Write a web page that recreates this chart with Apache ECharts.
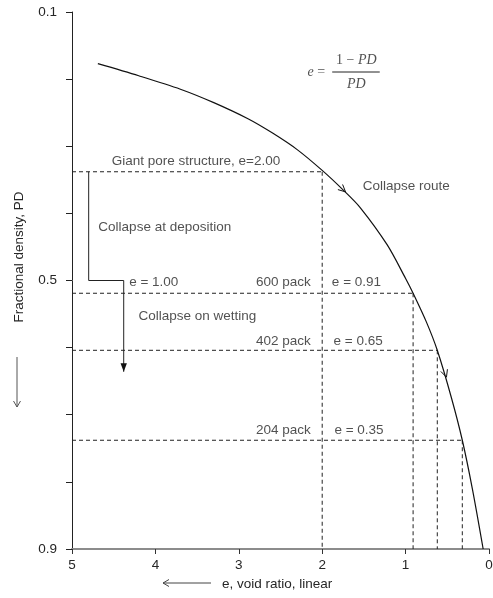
<!DOCTYPE html>
<html><head><meta charset="utf-8">
<script src="https://cdn.jsdelivr.net/npm/echarts@6/dist/echarts.min.js"></script>
<style>html,body{margin:0;padding:0;background:#fff}#c{width:493px;height:598px}</style>
</head><body><div id="c"></div>
<script>
// ---- data ----
const curveE  = [4.69, 4.2, 3.7, 3.3, 2.89, 2.6, 2.3, 2.0, 1.75, 1.54, 1.22, 1.0, 0.91, 0.75, 0.62, 0.45, 0.32, 0.2, 0.07];
const curvePD = [0.177, 0.195, 0.215, 0.235, 0.259, 0.28, 0.305, 0.336, 0.365, 0.392, 0.447, 0.497, 0.519, 0.562, 0.604, 0.675, 0.738, 0.81, 0.9];

const packE  = [2.0, 0.91, 0.62, 0.32];     // where the dashed guides meet the curve
const packPD = [0.338, 0.519, 0.604, 0.738];

const depositE  = [4.80, 4.80, 4.38, 4.38];  // "collapse at deposition / on wetting" path
const depositPD = [0.338, 0.5, 0.5, 0.636];

const labelTexts = ['Giant pore structure, e=2.00', 'Collapse route', 'Collapse at deposition', 'e = 1.00',
                    '600 pack', 'e = 0.91', 'Collapse on wetting', '402 pack', 'e = 0.65', '204 pack', 'e = 0.35'];
const labelE  = [4.53, 1.52, 4.69, 4.32, 2.80, 1.89, 4.21, 2.80, 1.87, 2.80, 1.86];
const labelPD = [0.322, 0.359, 0.420, 0.502, 0.502, 0.502, 0.554, 0.590, 0.590, 0.723, 0.723];

// arrowheads: tip (e, PD), a point behind it (e, PD), filled?
const arrowTipE   = [1.72, 0.51, 4.38];
const arrowTipPD  = [0.368, 0.644, 0.636];
const arrowFromE  = [2.0, 0.62, 4.38];
const arrowFromPD = [0.336, 0.604, 0.5];
const arrowFilled = [0, 0, 1];

const xMin = 0, xMax = 5, xStep = 1;
const yMin = 0.1, yMax = 0.9, yStep = 0.1;
const yLabelValues = [0.1, 0.5, 0.9];

// formula annotation
const formulaE = [2.07, 1.59, 1.59];
const formulaPD = [0.190, 0.1715, 0.207];
const fracBarE = [1.88, 1.31];
const fracBarPD = 0.1894;

// ---- build chart ----
const FONT = '"Liberation Sans", Arial, Helvetica, sans-serif';
const SERIF = '"Liberation Serif", "Times New Roman", serif';
const TXT = '#262626';
const zip = (a, b) => a.map((v, i) => [v, b[i]]);
const dashed = { color: '#222', width: 1, type: [4, 3] };

const series = [];
// main curve
series.push({ type: 'line', data: zip(curveE, curvePD), smooth: 0.3, symbol: 'none',
  lineStyle: { color: '#111', width: 1.2 }, silent: true, z: 5 });
// dashed horizontal and vertical guides
packE.forEach((e, i) => {
  series.push({ type: 'line', data: [[xMax, packPD[i]], [e, packPD[i]]], symbol: 'none', lineStyle: dashed, silent: true });
  series.push({ type: 'line', data: [[e, packPD[i]], [e, yMax]], symbol: 'none', lineStyle: dashed, silent: true });
});
// collapse path
series.push({ type: 'line', data: zip(depositE, depositPD), symbol: 'none',
  lineStyle: { color: '#222', width: 1 }, silent: true });
// fraction bar
series.push({ type: 'line', data: fracBarE.map(e => [e, fracBarPD]), symbol: 'none',
  lineStyle: { color: '#222', width: 1 }, silent: true });
// arrowheads
series.push({
  type: 'custom', silent: true, clip: false, z: 6,
  data: arrowTipE.map((e, i) => [e, arrowTipPD[i], arrowFromE[i], arrowFromPD[i], arrowFilled[i]]),
  encode: { x: 0, y: 1 },
  renderItem: function (params, api) {
    const tip = api.coord([api.value(0), api.value(1)]);
    const from = api.coord([api.value(2), api.value(3)]);
    const filled = api.value(4);
    let dx = tip[0] - from[0], dy = tip[1] - from[1];
    const len = Math.hypot(dx, dy) || 1; dx /= len; dy /= len;
    const L = filled ? 9 : 8, th = filled ? 0.36 : 0.45;
    const c = Math.cos(th), s = Math.sin(th);
    const a = [tip[0] - L * (dx * c - dy * s), tip[1] - L * (dx * s + dy * c)];
    const b = [tip[0] - L * (dx * c + dy * s), tip[1] - L * (-dx * s + dy * c)];
    if (filled) return { type: 'polygon', shape: { points: [a, tip, b] }, style: { fill: '#111' } };
    return { type: 'polyline', shape: { points: [a, tip, b] }, style: { stroke: '#111', lineWidth: 1, fill: null } };
  }
});
// text labels
series.push({
  type: 'scatter', silent: true, symbolSize: 1, itemStyle: { color: 'rgba(0,0,0,0)' }, z: 7,
  data: labelTexts.map((t, i) => ({ name: t, value: [labelE[i], labelPD[i]] })),
  label: { show: true, position: 'right', distance: 0, formatter: p => p.name,
    fontFamily: FONT, fontSize: 13.5, color: TXT }
});
// formula text
const formulaTexts = ['{i|e} =', '1 − {i|PD}', '{i|PD}'];
series.push({
  type: 'scatter', silent: true, symbolSize: 1, itemStyle: { color: 'rgba(0,0,0,0)' }, z: 7,
  data: formulaTexts.map((t, i) => ({ name: t, value: [formulaE[i], formulaPD[i]] })),
  label: { show: true, position: 'inside', formatter: p => p.name,
    fontFamily: SERIF, fontSize: 14, color: TXT,
    rich: { i: { fontFamily: SERIF, fontStyle: 'italic', fontSize: 14, color: TXT } } }
});

const option = {
  animation: false,
  backgroundColor: '#fff',
  grid: { left: 72, right: 4, top: 12, bottom: 49, containLabel: false, outerBoundsMode: 'none' },
  xAxis: {
    type: 'value', inverse: true, min: xMin, max: xMax, interval: xStep,
    splitLine: { show: false },
    axisLine: { show: true, lineStyle: { color: '#8c8c8c', width: 2 } },
    axisTick: { show: true, length: 5, lineStyle: { color: '#333', width: 1 } },
    axisLabel: { fontFamily: FONT, fontSize: 13.5, color: TXT, margin: 9 }
  },
  yAxis: {
    type: 'value', inverse: true, min: yMin, max: yMax, interval: yStep,
    splitLine: { show: false },
    axisLine: { show: true, onZero: false, lineStyle: { color: '#222', width: 1 } },
    axisTick: { show: true, length: 6, lineStyle: { color: '#222', width: 1 } },
    axisLabel: { fontFamily: FONT, fontSize: 13.5, color: TXT, margin: 15,
      formatter: v => { const r = Math.round(v * 10) / 10; return yLabelValues.includes(r) ? r.toFixed(1) : ''; } }
  },
  graphic: [
    { type: 'text', x: 222, y: 584, silent: true,
      style: { text: 'e, void ratio, linear', fontFamily: FONT, fontSize: 13.5, fill: TXT, align: 'left', verticalAlign: 'middle' } },
    { type: 'polyline', silent: true, shape: { points: [[211, 583], [163, 583]] }, style: { stroke: '#444', lineWidth: 1 } },
    { type: 'polyline', silent: true, shape: { points: [[169, 579.5], [163, 583], [169, 586.5]] }, style: { stroke: '#444', lineWidth: 1, fill: null } },
    { type: 'text', x: 19, y: 257, rotation: Math.PI / 2, silent: true,
      style: { text: 'Fractional density, PD', fontFamily: FONT, fontSize: 13.5, fill: TXT, align: 'center', verticalAlign: 'middle' } },
    { type: 'polyline', silent: true, shape: { points: [[17, 357], [17, 407]] }, style: { stroke: '#555', lineWidth: 1 } },
    { type: 'polyline', silent: true, shape: { points: [[13.5, 401], [17, 407], [20.5, 401]] }, style: { stroke: '#555', lineWidth: 1, fill: null } }
  ],
  series: series
};
const chart = echarts.init(document.getElementById('c'), null, { renderer: 'canvas' });
chart.setOption(option);
</script></body></html>
